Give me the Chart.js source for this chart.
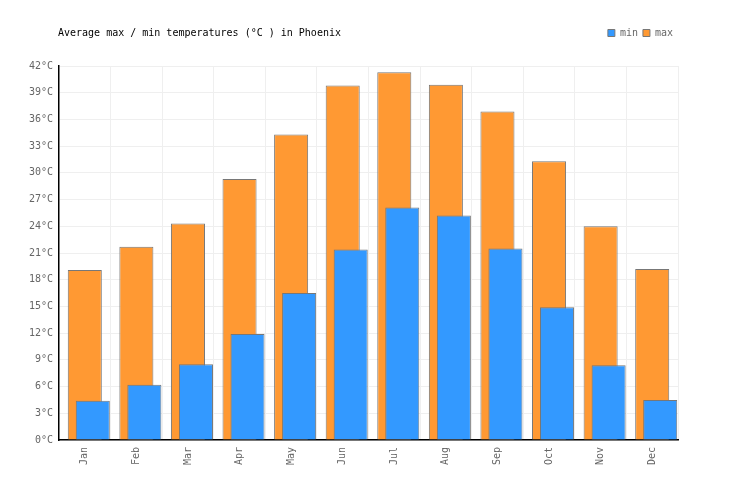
<!DOCTYPE html>
<html>
<head>
<meta charset="utf-8">
<script src="https://cdn.jsdelivr.net/npm/chart.js@4.4.0/dist/chart.umd.min.js"></script>
<style>
  body { margin: 0; background: #fff; }
  #wrap { width: 736px; height: 500px; }
</style>
</head>
<body>
<div id="wrap"><canvas id="tempChart" width="736" height="500"></canvas></div>
<script>
// dữ liệu
const chartTitle = 'Average max / min temperatures (°C ) in Phoenix';
const months = ['Jan', 'Feb', 'Mar', 'Apr', 'May', 'Jun', 'Jul', 'Aug', 'Sep', 'Oct', 'Nov', 'Dec'];
const minTemps = [4.4, 6.2, 8.5, 11.9, 16.5, 21.4, 26.1, 25.2, 21.5, 14.9, 8.4, 4.5];
const maxTemps = [19.1, 21.7, 24.3, 29.3, 34.3, 39.8, 41.3, 39.9, 36.9, 31.3, 24.0, 19.2];
const yTickMin = 0;
const yTickMax = 42;
const yTickStep = 3;

document.addEventListener('DOMContentLoaded', () => {
    const FONT = '"DejaVu Sans Mono", "Liberation Mono", monospace';
    const minShift = 0.155; // cột min lệch sang phải trong mỗi tháng

    // tiêu đề vẽ ngang hàng với legend
    const titlePlugin = {
        id: 'sideTitle',
        afterDraw(chart) {
            const c = chart.ctx;
            c.save();
            c.font = '10px ' + FONT;
            c.fillStyle = '#000';
            c.textBaseline = 'middle';
            c.textAlign = 'left';
            c.fillText(chartTitle, chart.chartArea.left - 1, 33);
            c.restore();
        }
    };

    try {
        const ctx = document.getElementById('tempChart');
        new Chart(ctx.getContext('2d'), {
            type: 'bar',
            data: {
                labels: months,
                datasets: [
                    {
                        label: 'min',
                        data: minTemps.map((v, i) => ({ x: i, y: v })),
                        xAxisID: 'xMin',
                        grouped: false,
                        backgroundColor: '#3399ff',
                        borderColor: '#777777',
                        borderWidth: 1,
                        categoryPercentage: 1,
                        barPercentage: 0.66
                    },
                    {
                        label: 'max',
                        data: maxTemps,
                        xAxisID: 'x',
                        grouped: false,
                        backgroundColor: '#ff9933',
                        borderColor: '#777777',
                        borderWidth: 1,
                        categoryPercentage: 1,
                        barPercentage: 0.66
                    }
                ]
            },
            options: {
                responsive: false,
                animation: false,
                layout: { padding: { top: 23, right: 58, bottom: 0, left: 0 } },
                scales: {
                    x: {
                        type: 'category',
                        offset: true,
                        grid: { color: '#efefef', offset: true, drawTicks: false },
                        border: { color: '#000', width: 1.5 },
                        ticks: {
                            autoSkip: false,
                            maxRotation: 90,
                            minRotation: 90,
                            padding: 7,
                            color: '#666',
                            font: { family: FONT, size: 10 }
                        },
                        afterFit: s => { s.height = 60; }
                    },
                    xMin: {
                        type: 'linear',
                        position: 'top',
                        offset: false,
                        min: -0.5 - minShift,
                        max: months.length - 0.5 - minShift,
                        afterBuildTicks: s => { s.ticks = months.map((m, i) => ({ value: i })); },
                        ticks: { display: false },
                        grid: { display: false },
                        border: { display: false },
                        afterFit: s => { s.height = 18; }
                    },
                    y: {
                        min: yTickMin,
                        max: yTickMax,
                        grid: { color: '#efefef', drawTicks: false },
                        border: { color: '#000', width: 1.5 },
                        ticks: {
                            stepSize: yTickStep,
                            padding: 6,
                            color: '#666',
                            font: { family: FONT, size: 10 },
                            callback: v => v + '°C'
                        },
                        afterFit: s => { s.width = 59; }
                    }
                },
                plugins: {
                    legend: {
                        position: 'top',
                        align: 'end',
                        labels: {
                            boxWidth: 7,
                            boxHeight: 7,
                            padding: 5,
                            color: '#666',
                            font: { family: FONT, size: 10 }
                        }
                    },
                    tooltip: { enabled: false }
                }
            },
            plugins: [titlePlugin]
        });
    } catch (e) {
        console.error('Chart render error', e);
    }
});
</script>
</body>
</html>
